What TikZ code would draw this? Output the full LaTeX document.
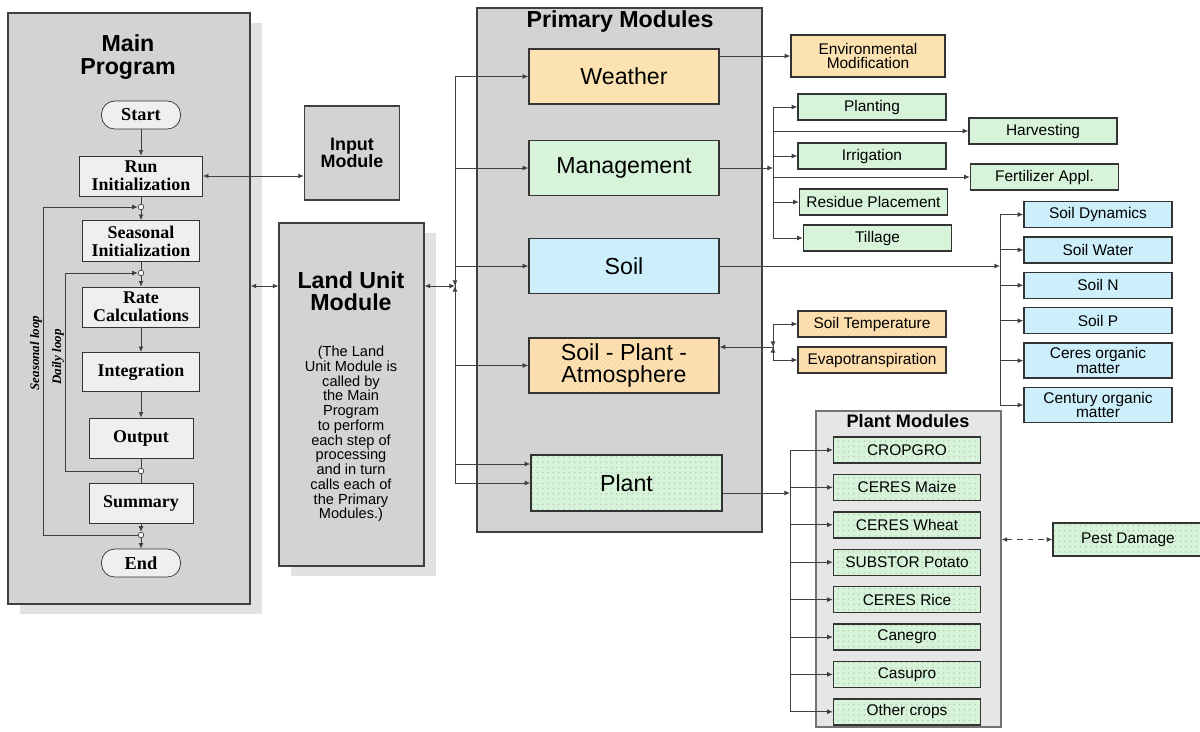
\documentclass[tikz,border=0pt]{standalone}
\usepackage{fontspec}
\setmainfont{Liberation Serif}
\setsansfont{Liberation Sans}
\usepackage{xcolor}
\usetikzlibrary{positioning, arrows.meta, patterns, shadows, calc}

\definecolor{panelgray}{HTML}{D3D3D3}
\definecolor{shadowgray}{HTML}{E2E2E2}
\definecolor{boxgray}{HTML}{EFEFEF}
\definecolor{pmgray}{HTML}{E6E6E6}
\definecolor{wxorange}{HTML}{FCE2B0}
\definecolor{mgtgreen}{HTML}{D7F4DB}
\definecolor{soilblue}{HTML}{CDEEFB}

\begin{document}
\begin{tikzpicture}[
    x=0.02cm, y=-0.02cm,
    node distance=0.2cm,
    panel/.style={rectangle, draw=black!75, line width=0.7pt, fill=panelgray, inner sep=0pt},
    shade/.style={drop shadow={shadow xshift=0.24cm, shadow yshift=-0.2cm, fill=shadowgray, opacity=1}},
    term/.style={rectangle, draw=black!80, fill=boxgray, rounded corners=7.5pt, minimum width=1.58cm, minimum height=0.56cm, inner sep=0pt, font=\bfseries\fontsize{10.4}{11}\selectfont},
    stepbox/.style={rectangle, draw=black!80, fill=boxgray, align=center, minimum height=0.8cm, inner sep=0pt, font=\bfseries\fontsize{10.2}{10.2}\selectfont},
    primary/.style={rectangle, draw=black!80, line width=0.8pt, minimum width=3.8cm, minimum height=1.1cm, align=center, inner sep=0pt, font=\sffamily\fontsize{13.2}{12.6}\selectfont},
    sub/.style={rectangle, draw=black!80, line width=0.8pt, minimum width=2.96cm, minimum height=0.52cm, align=center, inner sep=1pt, font=\sffamily\fontsize{8.8}{8.2}\selectfont},
    hatch/.style={preaction={fill=wxorange}, preaction={pattern=north east lines, pattern color=orange!35}},
    dotty/.style={preaction={fill=mgtgreen}, preaction={pattern=dots, pattern color=green!40!black!30}},
    jn/.style={circle, draw=black!75, fill=white, inner sep=0pt, minimum size=3.2pt},
    arrow/.style={draw=black!75, line width=0.5pt, -{Latex[length=3.2pt,width=2.8pt]}},
    twoway/.style={draw=black!75, line width=0.5pt, {Latex[length=3.2pt,width=2.8pt]}-{Latex[length=3.2pt,width=2.8pt]}},
    wire/.style={draw=black!75, line width=0.5pt},
    looplbl/.style={rotate=90, font=\bfseries\itshape\fontsize{7.4}{8}\selectfont},
    ttl/.style={align=center, font=\sffamily\bfseries\fontsize{13.2}{12.8}\selectfont}
    ]

    \useasboundingbox (0,0) rectangle (1200,731);
    \fill[white] (0,0) rectangle (1200,731);

    % main program
    \node[panel, shade, minimum width=4.84cm, minimum height=11.82cm] (main) at (129,308.5) {};
    \node[ttl] (mainttl) at (128,57) {Main\\Program};
    \node[term] (start) at (141,115) {Start};
    \node[stepbox, minimum width=2.46cm] (run) at (141,176) {Run\\Initialization};
    \node[stepbox, minimum width=2.34cm, minimum height=0.82cm] (seas) at (141,241) {Seasonal\\Initialization};
    \node[stepbox, minimum width=2.34cm] (rate) at (141,307) {Rate\\Calculations};
    \node[stepbox, minimum width=2.34cm, minimum height=0.78cm] (integ) at (141,372) {Integration};
    \node[stepbox, minimum width=2.08cm] (outp) at (141,438) {Output};
    \node[stepbox, minimum width=2.08cm] (summ) at (141,503) {Summary};
    \node[term] (stop) at (141,563) {End};

    \node[jn] (j1) at (141,207) {};
    \node[jn] (j2) at (141,273) {};
    \node[jn] (j3) at (141,471) {};
    \node[jn] (j4) at (141,535) {};

    \node[looplbl] (seaslbl) at (36,353) {Seasonal loop};
    \node[looplbl] (daylbl) at (58,357) {Daily loop};

    \draw[arrow] (start) -- (run);
    \draw[wire] (run) -- (j1);
    \draw[arrow] (j1) -- (seas);
    \draw[wire] (seas) -- (j2);
    \draw[arrow] (j2) -- (rate);
    \draw[arrow] (rate) -- (integ);
    \draw[arrow] (integ) -- (outp);
    \draw[wire] (outp) -- (j3);
    \draw[wire] (j3) -- (summ);
    \draw[arrow] (summ) -- (j4);
    \draw[arrow] (j4) -- (stop);
    \draw[arrow] (j3) -- ++(-76,0) |- (j2);
    \draw[arrow] (j4) -- ++(-98,0) |- (j1);

    % input and land unit
    \node[panel, minimum width=1.9cm, minimum height=1.88cm, align=center, font=\sffamily\bfseries\fontsize{10.2}{10}\selectfont] (input) at (352,153) {Input\\Module};
    \draw[twoway] (run.east) -- (run.east -| input.west);

    \node[panel, shade, minimum width=2.9cm, minimum height=6.86cm] (land) at (351.5,394.5) {};
    \node[ttl] (landttl) at (351,291) {Land Unit\\Module};
    \node[align=center, font=\sffamily\fontsize{8.3}{8.4}\selectfont] (landtxt) at (351,434)
        {(The Land\\Unit Module is\\called by\\the Main\\Program\\to perform\\each step of\\processing\\and in turn\\calls each of\\the Primary\\Modules.)};

    \coordinate (lu) at (455,286);
    \draw[twoway] (main.east |- lu) -- (land.west |- lu);
    \draw[twoway] (land.east |- lu) -- (lu);
    \draw[arrow] ([yshift=5pt]lu) -- (lu);
    \draw[arrow] ([yshift=-5pt]lu) -- (lu);

    % primary modules
    \node[panel, minimum width=5.7cm, minimum height=10.48cm] (prim) at (619.5,270) {};
    \node[ttl] (primttl) at (620,21) {Primary Modules};
    \node[primary, fill=wxorange] (weather) at (624,76.5) {Weather};
    \node[primary, fill=mgtgreen] (mgmt) at (624,168) {Management};
    \node[primary, fill=soilblue] (soil) at (624,266) {Soil};
    \node[primary, hatch] (spa) at (624,365.5) {Soil - Plant -\\Atmosphere};
    \node[primary, dotty, minimum width=3.82cm, minimum height=1.12cm] (plant) at (626.5,483) {Plant};

    \foreach \m in {weather, mgmt, soil, spa, plant}
        \draw[arrow] (lu) |- (\m.west);
    \draw[arrow] (lu) |- ([yshift=0.38cm]plant.west);

    % weather
    \node[sub, fill=wxorange, minimum width=3.08cm, minimum height=0.84cm] (envmod) at (868,56) {Environmental\\Modification};
    \draw[arrow] (weather.east |- envmod) -- (envmod);

    % management
    \node[sub, fill=mgtgreen] (planting) at (872,107) {Planting};
    \node[sub, fill=mgtgreen] (harvest) at (1043,131) {Harvesting};
    \node[sub, fill=mgtgreen] (irrig) at (872,156) {Irrigation};
    \node[sub, fill=mgtgreen] (fert) at (1044.5,177) {Fertilizer Appl.};
    \node[sub, fill=mgtgreen] (residue) at (873.5,202) {Residue Placement};
    \node[sub, fill=mgtgreen] (tillage) at (877.5,238) {Tillage};

    \coordinate (mb) at (773,168);
    \draw[arrow] (mgmt) -- (mb);
    \foreach \s in {planting, harvest, irrig, fert, residue, tillage}
        \draw[arrow] (mb) |- (\s.west);

    % soil
    \node[sub, fill=soilblue] (sdyn) at (1098,214.5) {Soil Dynamics};
    \node[sub, fill=soilblue, below=0.16cm of sdyn] (swat) {Soil Water};
    \node[sub, fill=soilblue, below=0.16cm of swat] (sn) {Soil N};
    \node[sub, fill=soilblue, below=0.16cm of sn] (sp) {Soil P};
    \node[sub, fill=soilblue, minimum height=0.7cm, below=0.16cm of sp] (ceres) {Ceres organic\\matter};
    \node[sub, fill=soilblue, minimum height=0.7cm, below=0.16cm of ceres] (century) {Century organic\\matter};

    \coordinate (sb) at (1000,266);
    \draw[arrow] (soil) -- (sb);
    \foreach \s in {sdyn, swat, sn, sp, ceres, century}
        \draw[arrow] (sb) |- (\s.west);

    % soil - plant - atmosphere
    \node[sub, hatch] (stemp) at (872,324) {Soil Temperature};
    \node[sub, hatch] (evap) at (872,360) {Evapotranspiration};

    \coordinate (pb) at (773,347);
    \draw[arrow] (pb) -- (spa.east |- pb);
    \foreach \s in {stemp, evap}
        \draw[arrow] (pb) |- (\s.west);
    \draw[arrow] ([yshift=4pt]pb) -- (pb);
    \draw[arrow] ([yshift=-4pt]pb) -- (pb);

    % plant modules
    \node[rectangle, draw=black!55, line width=0.7pt, fill=pmgray, minimum width=3.7cm, minimum height=6.32cm] (pmods) at (908.5,569) {};
    \node[ttl, font=\sffamily\bfseries\fontsize{10.3}{11}\selectfont] (pmttl) at (908,421) {Plant Modules};
    \node[sub, dotty, minimum width=2.94cm] (cropgro) at (907,450) {CROPGRO};
    \node[sub, dotty, minimum width=2.94cm, below=of cropgro] (maize) {CERES Maize};
    \node[sub, dotty, minimum width=2.94cm, below=of maize] (wheat) {CERES Wheat};
    \node[sub, dotty, minimum width=2.94cm, below=of wheat] (potato) {SUBSTOR Potato};
    \node[sub, dotty, minimum width=2.94cm, below=of potato] (rice) {CERES Rice};
    \node[sub, dotty, minimum width=2.94cm, below=of rice] (canegro) {Canegro};
    \node[sub, dotty, minimum width=2.94cm, below=of canegro] (casupro) {Casupro};
    \node[sub, dotty, minimum width=2.94cm, below=of casupro] (other) {Other crops};

    \coordinate (plb) at (790,493);
    \draw[arrow] (plant.east |- plb) -- (plb);
    \foreach \s in {cropgro, maize, wheat, potato, rice, canegro, casupro, other}
        \draw[arrow] (plb) |- (\s.west);

    \node[sub, dotty, minimum width=3cm, minimum height=0.66cm] (pest) at (1128,539.5) {Pest Damage};
    \draw[twoway, dashed] (pmods.east |- pest) -- (pest);

\end{tikzpicture}
\end{document}
